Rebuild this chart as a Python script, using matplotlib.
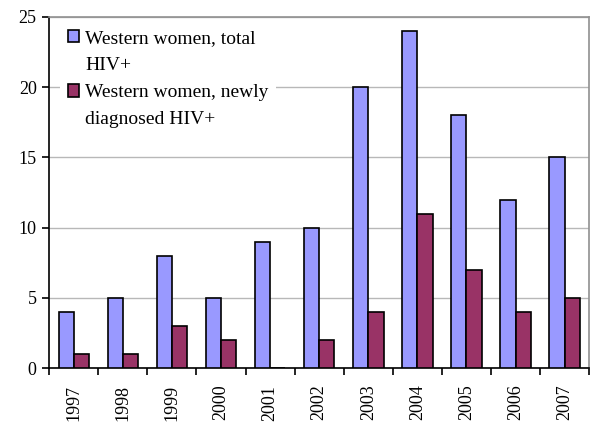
import matplotlib
matplotlib.use("Agg")
import matplotlib.pyplot as plt
from matplotlib.patches import Patch
import numpy as np

years = ["1997", "1998", "1999", "2000", "2001", "2002", "2003", "2004", "2005", "2006", "2007"]
total_hiv = [4, 5, 8, 5, 9, 10, 20, 24, 18, 12, 15]
new_hiv = [1, 1, 3, 2, 0, 2, 4, 11, 7, 4, 5]
labels = ["Western women, total\nHIV+", "Western women, newly\ndiagnosed HIV+"]
colors = ['#9999FF', '#993366']

plt.rcParams['font.family'] = ['Liberation Serif', 'DejaVu Serif']

fig = plt.figure(figsize=(6.0, 4.34), dpi=100)
ax = fig.add_axes([0.082, 0.152, 0.9, 0.809])

x = np.arange(len(years))
w = 0.31
ax.bar(x - w / 2, total_hiv, w, color=colors[0], edgecolor='black', linewidth=1.2, zorder=3)
ax.bar(x + w / 2, new_hiv, w, color=colors[1], edgecolor='black', linewidth=1.2, zorder=3)

ax.set_xlim(-0.5, len(years) - 0.5)
ax.set_ylim(0, 25)
ax.set_yticks([0, 5, 10, 15, 20, 25])
ax.yaxis.grid(True, color='#b8b8b8', linewidth=1, zorder=0)

ax.set_xticks(x)
ax.set_xticklabels(years, rotation=90, fontsize=13)
ax.tick_params(axis='x', length=0, pad=12)
ax.set_xticks(np.arange(-0.5, len(years)), minor=True)
ax.tick_params(axis='x', which='minor', length=5, width=1.2, direction='out')
ax.tick_params(axis='y', length=5, width=1.2, direction='out', labelsize=13, pad=4)

for s in ['left', 'bottom']:
    ax.spines[s].set_color('black')
    ax.spines[s].set_linewidth(1.2)
for s in ['top', 'right']:
    ax.spines[s].set_color('#909090')
    ax.spines[s].set_linewidth(1.2)

# legend: marker aligned with the first line of each label
handles, texts = [], []
for lab, col in zip(labels, colors):
    lines = lab.split("\n")
    handles.append(Patch(facecolor=col, edgecolor='black', linewidth=1.2))
    texts.append(lines[0])
    for extra in lines[1:]:
        handles.append(Patch(facecolor='none', edgecolor='none'))
        texts.append(extra)

leg = ax.legend(handles, texts, loc='upper left', bbox_to_anchor=(0.02, 0.985), borderaxespad=0,
                frameon=True, fontsize=14, handlelength=0.6, handleheight=0.6,
                handletextpad=0.3, labelspacing=0.52, borderpad=0.4, fancybox=False)
leg.get_frame().set_edgecolor('none')
leg.get_frame().set_facecolor('white')
leg.get_frame().set_alpha(1)
leg.set_zorder(5)

fig.savefig("out.png", dpi=100)
